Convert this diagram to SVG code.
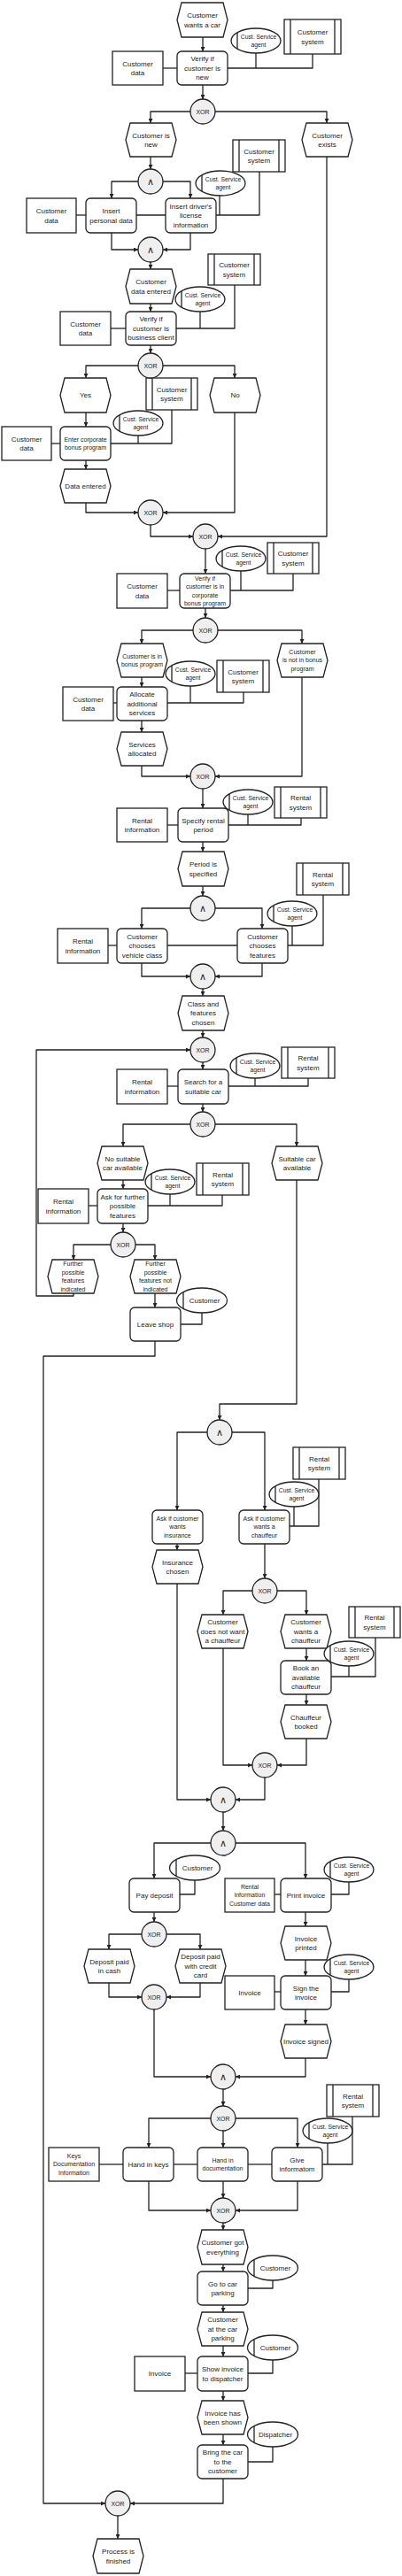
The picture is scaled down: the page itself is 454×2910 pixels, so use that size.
<svg xmlns="http://www.w3.org/2000/svg" width="454" height="2910" viewBox="0 0 454 2910">
<style>
.n rect,.n polygon,.n ellipse{fill:#fff;stroke:#222;stroke-width:1.3}
.n circle{fill:#efefef;stroke:#222;stroke-width:1.3}
.n path{fill:none;stroke:#222;stroke-width:1.3}
text{font-family:"Liberation Sans",Arial,sans-serif;font-size:8px;fill:#222;text-anchor:middle}
.sm{font-size:7px}
.og{font-size:6.8px}
.xr{font-size:7px}
.op{font-family:"DejaVu Sans",sans-serif;font-size:11px}
#conn path{fill:none;stroke:#222;stroke-width:1.3;stroke-linejoin:round}
#conn .a{marker-end:url(#ah)}
</style>
<defs>
<marker id="ah" viewBox="0 0 6 6" refX="6" refY="3" markerWidth="5" markerHeight="5" markerUnits="userSpaceOnUse" orient="auto"><path d="M0,0L6,3L0,6z" fill="#222"/></marker>
</defs>
<rect width="454" height="2910" fill="#fff"/>
<g id="conn">
<path class="a" d="M229,42V58"/>
<path class="a" d="M229,96V112"/>
<path class="a" d="M215,126H170V139"/>
<path class="a" d="M243,126H369V139"/>
<path class="a" d="M170,177V191"/>
<path class="a" d="M156,205H126V224"/>
<path class="a" d="M184,205H215V224"/>
<path class="a" d="M126,263V282H156"/>
<path class="a" d="M215,263V282H184"/>
<path class="a" d="M170,296V304"/>
<path class="a" d="M170,343V352"/>
<path class="a" d="M170,390V399"/>
<path class="a" d="M156,413H97V427"/>
<path class="a" d="M184,413H265V427"/>
<path class="a" d="M97,466V482"/>
<path class="a" d="M97,520V530"/>
<path class="a" d="M97,568V579H156"/>
<path class="a" d="M265,466V579H184"/>
<path class="a" d="M170,593V606H218"/>
<path class="a" d="M369,177V606H246"/>
<path class="a" d="M232,620V648"/>
<path class="a" d="M232,687V698"/>
<path class="a" d="M218,712H160V727"/>
<path class="a" d="M246,712H341V727"/>
<path class="a" d="M160,765V776"/>
<path class="a" d="M160,814V827"/>
<path class="a" d="M160,865V877H215"/>
<path class="a" d="M341,765V877H243"/>
<path class="a" d="M229,891V913"/>
<path class="a" d="M229,951V962"/>
<path class="a" d="M229,1001V1012"/>
<path class="a" d="M215,1026H160V1049"/>
<path class="a" d="M243,1026H296V1049"/>
<path class="a" d="M160,1088V1103H215"/>
<path class="a" d="M296,1088V1103H243"/>
<path class="a" d="M229,1117V1125"/>
<path class="a" d="M229,1164V1172"/>
<path class="a" d="M83,1461V1464H41V1186H215"/>
<path class="a" d="M229,1200V1208"/>
<path class="a" d="M229,1247V1256"/>
<path class="a" d="M215,1270H139V1295"/>
<path class="a" d="M243,1270H335V1295"/>
<path class="a" d="M139,1333V1343"/>
<path class="a" d="M139,1382V1392"/>
<path class="a" d="M125,1406H83V1423"/>
<path class="a" d="M153,1406H175V1423"/>
<path class="a" d="M175,1461V1477"/>
<path class="a" d="M175,1515V1532H49V2828H119"/>
<path class="a" d="M335,1333V1586H248V1604"/>
<path class="a" d="M234,1618H200V1706"/>
<path class="a" d="M262,1618H299V1706"/>
<path class="a" d="M200,1744V1751"/>
<path class="a" d="M200,1789V2033H238"/>
<path class="a" d="M299,1744V1783"/>
<path class="a" d="M285,1797H252V1824"/>
<path class="a" d="M313,1797H346V1824"/>
<path class="a" d="M346,1862V1876"/>
<path class="a" d="M346,1914V1926"/>
<path class="a" d="M252,1862V1994H285"/>
<path class="a" d="M346,1964V1994H313"/>
<path class="a" d="M299,2008V2033H266"/>
<path class="a" d="M252,2047V2068"/>
<path class="a" d="M238,2082H174V2122"/>
<path class="a" d="M266,2082H345V2122"/>
<path class="a" d="M174,2160V2171"/>
<path class="a" d="M160,2185H123V2202"/>
<path class="a" d="M188,2185H226V2202"/>
<path class="a" d="M123,2240V2256H160"/>
<path class="a" d="M226,2240V2256H188"/>
<path class="a" d="M174,2270V2346H238"/>
<path class="a" d="M345,2160V2176"/>
<path class="a" d="M345,2214V2232"/>
<path class="a" d="M345,2270V2287"/>
<path class="a" d="M345,2325V2346H266"/>
<path class="a" d="M252,2360V2379"/>
<path class="a" d="M238,2393H168V2426"/>
<path class="a" d="M266,2393H336V2426"/>
<path class="a" d="M252,2407V2426"/>
<path class="a" d="M168,2464V2497H238"/>
<path class="a" d="M336,2464V2497H266"/>
<path class="a" d="M252,2464V2483"/>
<path class="a" d="M252,2511V2519"/>
<path class="a" d="M252,2558V2566"/>
<path class="a" d="M252,2604V2612"/>
<path class="a" d="M252,2650V2662"/>
<path class="a" d="M252,2701V2712"/>
<path class="a" d="M252,2750V2762"/>
<path class="a" d="M252,2800V2828H147"/>
<path class="a" d="M133,2842V2868"/>
<path d="M184,77H200"/>
<path d="M257,77H353V61"/>
<path d="M289,60V77"/>
<path d="M86,243H97"/>
<path d="M154,243H187"/>
<path d="M244,243H293V194"/>
<path d="M248,221V243"/>
<path d="M125,371H142"/>
<path d="M199,371H265V322"/>
<path d="M226,352V371"/>
<path d="M58,501H68"/>
<path d="M125,501H194V463"/>
<path d="M156,492V501"/>
<path d="M189,667H203"/>
<path d="M260,667H331V648"/>
<path d="M272,645V667"/>
<path d="M128,794H132"/>
<path d="M189,794H275V782"/>
<path d="M215,775V794"/>
<path d="M189,932H201"/>
<path d="M258,932H340V924"/>
<path d="M280,920V932"/>
<path d="M122,1068H132"/>
<path d="M189,1068H268"/>
<path d="M325,1068H365V1011"/>
<path d="M330,1046V1068"/>
<path d="M189,1227H201"/>
<path d="M258,1227H348V1218"/>
<path d="M288,1218V1227"/>
<path d="M100,1362H110"/>
<path d="M167,1362H251V1350"/>
<path d="M192,1349V1362"/>
<path d="M228,1483V1496H204"/>
<path d="M327,1724H360V1671"/>
<path d="M332,1702V1724"/>
<path d="M374,1894H424V1850"/>
<path d="M394,1882V1894"/>
<path d="M220,2124V2140H203"/>
<path d="M310,2140H317"/>
<path d="M394,2126V2140H374"/>
<path d="M310,2250H317"/>
<path d="M394,2236V2250H374"/>
<path d="M112,2445H139"/>
<path d="M196,2445H223"/>
<path d="M280,2445H307"/>
<path d="M364,2445H398V2391"/>
<path d="M370,2421V2445"/>
<path d="M308,2576V2585H280"/>
<path d="M209,2681H223"/>
<path d="M308,2666V2681H280"/>
<path d="M308,2764V2781H280"/>
</g>

<!-- Events -->
<g id="e1" class="n"><polygon points="200,22.5 205,3 252,3 257,22.5 252,42 205,42"/><text x="228.5" y="20.1">Customer<tspan x="228.5" dy="10.5">wants a car</tspan></text></g>
<g id="e2" class="n"><polygon points="142,158 147,139 194,139 199,158 194,177 147,177"/><text x="170.5" y="155.6">Customer is<tspan x="170.5" dy="10.5">new</tspan></text></g>
<g id="e3" class="n"><polygon points="341,158 346,139 393,139 398,158 393,177 346,177"/><text x="369.5" y="155.6">Customer<tspan x="369.5" dy="10.5">exists</tspan></text></g>
<g id="e4" class="n"><polygon points="142,323.5 147,304 194,304 199,323.5 194,343 147,343"/><text x="170.5" y="321.1">Customer<tspan x="170.5" dy="10.5">data entered</tspan></text></g>
<g id="e5" class="n"><polygon points="68,446.5 73,427 120,427 125,446.5 120,466 73,466"/><text x="96.5" y="449.3">Yes</text></g>
<g id="e6" class="n"><polygon points="237,446.5 242,427 289,427 294,446.5 289,466 242,466"/><text x="265.5" y="449.3">No</text></g>
<g id="e7" class="n"><polygon points="68,549 73,530 120,530 125,549 120,568 73,568"/><text x="96.5" y="551.8">Data entered</text></g>
<g id="e8" class="n"><polygon points="132,746 137,727 184,727 189,746 184,765 137,765"/><text class="sm" x="160.5" y="743.7">Customer is in<tspan x="160.5" dy="9.5">bonus program</tspan></text></g>
<g id="e9" class="n"><polygon points="313,746 318,727 365,727 370,746 365,765 318,765"/><text class="sm" x="341.5" y="738.9">Customer<tspan x="341.5" dy="9.5">is not in bonus</tspan><tspan x="341.5" dy="9.5">program</tspan></text></g>
<g id="e10" class="n"><polygon points="132,846 137,827 184,827 189,846 184,865 137,865"/><text x="160.5" y="843.6">Services<tspan x="160.5" dy="10.5">allocated</tspan></text></g>
<g id="e11" class="n"><polygon points="201,981.5 206,962 253,962 258,981.5 253,1001 206,1001"/><text x="229.5" y="979.1">Period is<tspan x="229.5" dy="10.5">specified</tspan></text></g>
<g id="e12" class="n"><polygon points="201,1144.5 206,1125 253,1125 258,1144.5 253,1164 206,1164"/><text x="229.5" y="1136.8">Class and<tspan x="229.5" dy="10.5">features</tspan><tspan x="229.5" dy="10.5">chosen</tspan></text></g>
<g id="e13" class="n"><polygon points="110,1314 115,1295 162,1295 167,1314 162,1333 115,1333"/><text x="138.5" y="1311.6">No suitable<tspan x="138.5" dy="10.5">car available</tspan></text></g>
<g id="e14" class="n"><polygon points="307,1314 312,1295 359,1295 364,1314 359,1333 312,1333"/><text x="335.5" y="1311.6">Suitable car<tspan x="335.5" dy="10.5">available</tspan></text></g>
<g id="e15" class="n"><polygon points="54,1442 59,1423 106,1423 111,1442 106,1461 59,1461"/><text class="sm" x="82.5" y="1430.2">Further<tspan x="82.5" dy="9.5">possible</tspan><tspan x="82.5" dy="9.5">features</tspan><tspan x="82.5" dy="9.5">indicated</tspan></text></g>
<g id="e16" class="n"><polygon points="147,1442 152,1423 199,1423 204,1442 199,1461 152,1461"/><text class="sm" x="175.5" y="1430.2">Further<tspan x="175.5" dy="9.5">possible</tspan><tspan x="175.5" dy="9.5">features not</tspan><tspan x="175.5" dy="9.5">indicated</tspan></text></g>
<g id="e17" class="n"><polygon points="172,1770 177,1751 224,1751 229,1770 224,1789 177,1789"/><text x="200.5" y="1767.6">Insurance<tspan x="200.5" dy="10.5">chosen</tspan></text></g>
<g id="e18" class="n"><polygon points="223,1843 228,1824 275,1824 280,1843 275,1862 228,1862"/><text x="251.5" y="1835.3">Customer<tspan x="251.5" dy="10.5">does not want</tspan><tspan x="251.5" dy="10.5">a chauffeur</tspan></text></g>
<g id="e19" class="n"><polygon points="317,1843 322,1824 369,1824 374,1843 369,1862 322,1862"/><text x="345.5" y="1835.3">Customer<tspan x="345.5" dy="10.5">wants a</tspan><tspan x="345.5" dy="10.5">chauffeur</tspan></text></g>
<g id="e20" class="n"><polygon points="317,1945 322,1926 369,1926 374,1945 369,1964 322,1964"/><text x="345.5" y="1942.6">Chauffeur<tspan x="345.5" dy="10.5">booked</tspan></text></g>
<g id="e21" class="n"><polygon points="95,2221 100,2202 147,2202 152,2221 147,2240 100,2240"/><text x="123.5" y="2218.6">Deposit paid<tspan x="123.5" dy="10.5">in cash</tspan></text></g>
<g id="e22" class="n"><polygon points="198,2221 203,2202 250,2202 255,2221 250,2240 203,2240"/><text x="226.5" y="2213.3">Deposit paid<tspan x="226.5" dy="10.5">with credit</tspan><tspan x="226.5" dy="10.5">card</tspan></text></g>
<g id="e23" class="n"><polygon points="317,2195 322,2176 369,2176 374,2195 369,2214 322,2214"/><text x="345.5" y="2192.6">Invoice<tspan x="345.5" dy="10.5">printed</tspan></text></g>
<g id="e24" class="n"><polygon points="317,2306 322,2287 369,2287 374,2306 369,2325 322,2325"/><text x="345.5" y="2308.8">Invoice signed</text></g>
<g id="e25" class="n"><polygon points="223,2538.5 228,2519 275,2519 280,2538.5 275,2558 228,2558"/><text x="251.5" y="2536.1">Customer got<tspan x="251.5" dy="10.5">everything</tspan></text></g>
<g id="e26" class="n"><polygon points="223,2631 228,2612 275,2612 280,2631 275,2650 228,2650"/><text x="251.5" y="2623.3">Customer<tspan x="251.5" dy="10.5">at the car</tspan><tspan x="251.5" dy="10.5">parking</tspan></text></g>
<g id="e27" class="n"><polygon points="223,2731 228,2712 275,2712 280,2731 275,2750 228,2750"/><text x="251.5" y="2728.6">Invoice has<tspan x="251.5" dy="10.5">been shown</tspan></text></g>
<g id="e28" class="n"><polygon points="105,2887.5 110,2868 157,2868 162,2887.5 157,2907 110,2907"/><text x="133.5" y="2885.1">Process is<tspan x="133.5" dy="10.5">finished</tspan></text></g>

<!-- Functions -->
<g id="f1" class="n"><rect x="200" y="58" width="57" height="38" rx="5"/><text x="228.5" y="69.3">Verify if<tspan x="228.5" dy="10.5">customer is</tspan><tspan x="228.5" dy="10.5">new</tspan></text></g>
<g id="f2" class="n"><rect x="97" y="224" width="57" height="39" rx="5"/><text x="125.5" y="241.1">Insert<tspan x="125.5" dy="10.5">personal data</tspan></text></g>
<g id="f3" class="n"><rect x="187" y="224" width="57" height="39" rx="5"/><text x="215.5" y="235.8">Insert driver's<tspan x="215.5" dy="10.5">license</tspan><tspan x="215.5" dy="10.5">information</tspan></text></g>
<g id="f4" class="n"><rect x="142" y="352" width="57" height="38" rx="5"/><text x="170.5" y="363.3">Verify if<tspan x="170.5" dy="10.5">customer is</tspan><tspan x="170.5" dy="10.5">business client</tspan></text></g>
<g id="f5" class="n"><rect x="68" y="482" width="57" height="38" rx="5"/><text class="sm" x="96.5" y="498.7">Enter corporate<tspan x="96.5" dy="9.5">bonus program</tspan></text></g>
<g id="f6" class="n"><rect x="203" y="648" width="57" height="39" rx="5"/><text class="sm" x="231.5" y="655.7">Verify if<tspan x="231.5" dy="9.5">customer is in</tspan><tspan x="231.5" dy="9.5">corporate</tspan><tspan x="231.5" dy="9.5">bonus program</tspan></text></g>
<g id="f7" class="n"><rect x="132" y="776" width="57" height="38" rx="5"/><text x="160.5" y="787.3">Allocate<tspan x="160.5" dy="10.5">additional</tspan><tspan x="160.5" dy="10.5">services</tspan></text></g>
<g id="f8" class="n"><rect x="201" y="913" width="57" height="38" rx="5"/><text x="229.5" y="929.6">Specify rental<tspan x="229.5" dy="10.5">period</tspan></text></g>
<g id="f9" class="n"><rect x="132" y="1049" width="57" height="39" rx="5"/><text x="160.5" y="1060.8">Customer<tspan x="160.5" dy="10.5">chooses</tspan><tspan x="160.5" dy="10.5">vehicle class</tspan></text></g>
<g id="f10" class="n"><rect x="268" y="1049" width="57" height="39" rx="5"/><text x="296.5" y="1060.8">Customer<tspan x="296.5" dy="10.5">chooses</tspan><tspan x="296.5" dy="10.5">features</tspan></text></g>
<g id="f11" class="n"><rect x="201" y="1208" width="57" height="39" rx="5"/><text x="229.5" y="1225.1">Search for a<tspan x="229.5" dy="10.5">suitable car</tspan></text></g>
<g id="f12" class="n"><rect x="110" y="1343" width="57" height="39" rx="5"/><text x="138.5" y="1354.8">Ask for further<tspan x="138.5" dy="10.5">possible</tspan><tspan x="138.5" dy="10.5">features</tspan></text></g>
<g id="f13" class="n"><rect x="147" y="1477" width="57" height="38" rx="5"/><text x="175.5" y="1498.8">Leave shop</text></g>
<g id="f14" class="n"><rect x="172" y="1706" width="57" height="38" rx="5"/><text class="sm" x="200.5" y="1717.9">Ask if customer<tspan x="200.5" dy="9.5">wants</tspan><tspan x="200.5" dy="9.5">insurance</tspan></text></g>
<g id="f15" class="n"><rect x="270" y="1706" width="57" height="38" rx="5"/><text class="sm" x="298.5" y="1717.9">Ask if customer<tspan x="298.5" dy="9.5">wants a</tspan><tspan x="298.5" dy="9.5">chauffeur</tspan></text></g>
<g id="f16" class="n"><rect x="317" y="1876" width="57" height="38" rx="5"/><text x="345.5" y="1887.3">Book an<tspan x="345.5" dy="10.5">available</tspan><tspan x="345.5" dy="10.5">chauffeur</tspan></text></g>
<g id="f17" class="n"><rect x="146" y="2122" width="57" height="38" rx="5"/><text x="174.5" y="2143.8">Pay deposit</text></g>
<g id="f18" class="n"><rect x="317" y="2122" width="57" height="38" rx="5"/><text x="345.5" y="2143.8">Print invoice</text></g>
<g id="f19" class="n"><rect x="317" y="2232" width="57" height="38" rx="5"/><text x="345.5" y="2248.6">Sign the<tspan x="345.5" dy="10.5">invoice</tspan></text></g>
<g id="f20" class="n"><rect x="139" y="2426" width="57" height="38" rx="5"/><text x="167.5" y="2447.8">Hand in keys</text></g>
<g id="f21" class="n"><rect x="223" y="2426" width="57" height="38" rx="5"/><text class="sm" x="251.5" y="2442.7">Hand in<tspan x="251.5" dy="9.5">documentation</tspan></text></g>
<g id="f22" class="n"><rect x="307" y="2426" width="57" height="38" rx="5"/><text x="335.5" y="2442.6">Give<tspan x="335.5" dy="10.5">informatom</tspan></text></g>
<g id="f23" class="n"><rect x="223" y="2566" width="57" height="38" rx="5"/><text x="251.5" y="2582.6">Go to car<tspan x="251.5" dy="10.5">parking</tspan></text></g>
<g id="f24" class="n"><rect x="223" y="2662" width="57" height="39" rx="5"/><text x="251.5" y="2679.1">Show invoice<tspan x="251.5" dy="10.5">to dispatcher</tspan></text></g>
<g id="f25" class="n"><rect x="223" y="2762" width="57" height="38" rx="5"/><text x="251.5" y="2773.3">Bring the car<tspan x="251.5" dy="10.5">to the</tspan><tspan x="251.5" dy="10.5">customer</tspan></text></g>

<!-- Data -->
<g id="d1" class="n"><rect x="127" y="58" width="57" height="38"/><text x="155.5" y="74.6">Customer<tspan x="155.5" dy="10.5">data</tspan></text></g>
<g id="d2" class="n"><rect x="30" y="224" width="56" height="39"/><text x="58" y="241.1">Customer<tspan x="58" dy="10.5">data</tspan></text></g>
<g id="d3" class="n"><rect x="68" y="352" width="57" height="38"/><text x="96.5" y="368.6">Customer<tspan x="96.5" dy="10.5">data</tspan></text></g>
<g id="d4" class="n"><rect x="2" y="482" width="56" height="38"/><text x="30" y="498.6">Customer<tspan x="30" dy="10.5">data</tspan></text></g>
<g id="d5" class="n"><rect x="132" y="648" width="57" height="39"/><text x="160.5" y="665.1">Customer<tspan x="160.5" dy="10.5">data</tspan></text></g>
<g id="d6" class="n"><rect x="71" y="776" width="57" height="38"/><text x="99.5" y="792.6">Customer<tspan x="99.5" dy="10.5">data</tspan></text></g>
<g id="d7" class="n"><rect x="132" y="913" width="57" height="38"/><text x="160.5" y="929.6">Rental<tspan x="160.5" dy="10.5">information</tspan></text></g>
<g id="d8" class="n"><rect x="65" y="1049" width="57" height="39"/><text x="93.5" y="1066.1">Rental<tspan x="93.5" dy="10.5">information</tspan></text></g>
<g id="d9" class="n"><rect x="132" y="1208" width="57" height="39"/><text x="160.5" y="1225.1">Rental<tspan x="160.5" dy="10.5">information</tspan></text></g>
<g id="d10" class="n"><rect x="43" y="1343" width="57" height="39"/><text x="71.5" y="1360.1">Rental<tspan x="71.5" dy="10.5">information</tspan></text></g>
<g id="d11" class="n"><rect x="254" y="2122" width="56" height="38"/><text class="sm" x="282" y="2133.9">Rental<tspan x="282" dy="9.5">information</tspan><tspan x="282" dy="9.5">Customer data</tspan></text></g>
<g id="d12" class="n"><rect x="254" y="2232" width="56" height="38"/><text x="282" y="2253.8">Invoice</text></g>
<g id="d13" class="n"><rect x="55" y="2426" width="57" height="38"/><text class="sm" x="83.5" y="2437.9">Keys<tspan x="83.5" dy="9.5">Documentation</tspan><tspan x="83.5" dy="9.5">Information</tspan></text></g>
<g id="d14" class="n"><rect x="152" y="2662" width="57" height="39"/><text x="180.5" y="2684.3">Invoice</text></g>

<!-- Systems -->
<g id="s1" class="n"><rect x="321" y="22" width="64" height="39"/><path d="M328,22V61M378,22V61"/><text x="353" y="39.1">Customer<tspan x="353" dy="10.5">system</tspan></text></g>
<g id="s2" class="n"><rect x="263" y="158" width="59" height="36"/><path d="M270,158V194M315,158V194"/><text x="292.5" y="173.6">Customer<tspan x="292.5" dy="10.5">system</tspan></text></g>
<g id="s3" class="n"><rect x="235" y="287" width="59" height="35"/><path d="M242,287V322M287,287V322"/><text x="264.5" y="302.1">Customer<tspan x="264.5" dy="10.5">system</tspan></text></g>
<g id="s4" class="n"><rect x="165" y="427" width="58" height="36"/><path d="M172,427V463M216,427V463"/><text x="194" y="442.6">Customer<tspan x="194" dy="10.5">system</tspan></text></g>
<g id="s5" class="n"><rect x="302" y="613" width="58" height="35"/><path d="M309,613V648M353,613V648"/><text x="331" y="628.1">Customer<tspan x="331" dy="10.5">system</tspan></text></g>
<g id="s6" class="n"><rect x="245" y="746" width="59" height="36"/><path d="M252,746V782M297,746V782"/><text x="274.5" y="761.6">Customer<tspan x="274.5" dy="10.5">system</tspan></text></g>
<g id="s7" class="n"><rect x="310" y="889" width="59" height="35"/><path d="M317,889V924M362,889V924"/><text x="339.5" y="904.1">Rental<tspan x="339.5" dy="10.5">system</tspan></text></g>
<g id="s8" class="n"><rect x="335" y="975" width="59" height="36"/><path d="M342,975V1011M387,975V1011"/><text x="364.5" y="990.6">Rental<tspan x="364.5" dy="10.5">system</tspan></text></g>
<g id="s9" class="n"><rect x="318" y="1183" width="60" height="35"/><path d="M325,1183V1218M371,1183V1218"/><text x="348" y="1198.1">Rental<tspan x="348" dy="10.5">system</tspan></text></g>
<g id="s10" class="n"><rect x="222" y="1314" width="59" height="36"/><path d="M229,1314V1350M274,1314V1350"/><text x="251.5" y="1329.6">Rental<tspan x="251.5" dy="10.5">system</tspan></text></g>
<g id="s11" class="n"><rect x="331" y="1635" width="59" height="36"/><path d="M338,1635V1671M383,1635V1671"/><text x="360.5" y="1650.6">Rental<tspan x="360.5" dy="10.5">system</tspan></text></g>
<g id="s12" class="n"><rect x="394" y="1815" width="58" height="35"/><path d="M401,1815V1850M445,1815V1850"/><text x="423" y="1830.1">Rental<tspan x="423" dy="10.5">system</tspan></text></g>
<g id="s13" class="n"><rect x="369" y="2355" width="59" height="36"/><path d="M376,2355V2391M421,2355V2391"/><text x="398.5" y="2370.6">Rental<tspan x="398.5" dy="10.5">system</tspan></text></g>

<!-- Organisational units -->
<g id="o1" class="n"><ellipse cx="289" cy="46" rx="28" ry="14"/><path d="M268,36.7V55.3"/><text class="og" x="292" y="43.9">Cust. Service<tspan x="292" dy="9">agent</tspan></text></g>
<g id="o2" class="n"><ellipse cx="249" cy="207" rx="28" ry="14"/><path d="M228,197.7V216.3"/><text class="og" x="252" y="204.9">Cust. Service<tspan x="252" dy="9">agent</tspan></text></g>
<g id="o3" class="n"><ellipse cx="226" cy="338" rx="28" ry="14"/><path d="M205,328.7V347.3"/><text class="og" x="229" y="335.9">Cust. Service<tspan x="229" dy="9">agent</tspan></text></g>
<g id="o4" class="n"><ellipse cx="156" cy="478" rx="28" ry="14"/><path d="M135,468.7V487.3"/><text class="og" x="159" y="475.9">Cust. Service<tspan x="159" dy="9">agent</tspan></text></g>
<g id="o5" class="n"><ellipse cx="272" cy="631" rx="28" ry="14"/><path d="M251,621.7V640.3"/><text class="og" x="275" y="628.9">Cust. Service<tspan x="275" dy="9">agent</tspan></text></g>
<g id="o6" class="n"><ellipse cx="215" cy="761" rx="28" ry="14"/><path d="M194,751.7V770.3"/><text class="og" x="218" y="758.9">Cust. Service<tspan x="218" dy="9">agent</tspan></text></g>
<g id="o7" class="n"><ellipse cx="280" cy="906" rx="28" ry="14"/><path d="M259,896.7V915.3"/><text class="og" x="283" y="903.9">Cust. Service<tspan x="283" dy="9">agent</tspan></text></g>
<g id="o8" class="n"><ellipse cx="330" cy="1032" rx="28" ry="14"/><path d="M309,1022.7V1041.3"/><text class="og" x="333" y="1029.9">Cust. Service<tspan x="333" dy="9">agent</tspan></text></g>
<g id="o9" class="n"><ellipse cx="288" cy="1204" rx="28" ry="14"/><path d="M267,1194.7V1213.3"/><text class="og" x="291" y="1201.9">Cust. Service<tspan x="291" dy="9">agent</tspan></text></g>
<g id="o10" class="n"><ellipse cx="192" cy="1335" rx="28" ry="14"/><path d="M171,1325.7V1344.3"/><text class="og" x="195" y="1332.9">Cust. Service<tspan x="195" dy="9">agent</tspan></text></g>
<g id="o11" class="n"><ellipse cx="228" cy="1469" rx="28.5" ry="14"/><path d="M207,1459.7V1478.3"/><text x="231" y="1471.8">Customer</text></g>
<g id="o12" class="n"><ellipse cx="332" cy="1688" rx="28" ry="14"/><path d="M311,1678.7V1697.3"/><text class="og" x="335" y="1685.9">Cust. Service<tspan x="335" dy="9">agent</tspan></text></g>
<g id="o13" class="n"><ellipse cx="394" cy="1868" rx="28" ry="14"/><path d="M373,1858.7V1877.3"/><text class="og" x="397" y="1865.9">Cust. Service<tspan x="397" dy="9">agent</tspan></text></g>
<g id="o14" class="n"><ellipse cx="220" cy="2110" rx="28.5" ry="14"/><path d="M199,2100.7V2119.3"/><text x="223" y="2112.8">Customer</text></g>
<g id="o15" class="n"><ellipse cx="394" cy="2112" rx="28" ry="14"/><path d="M373,2102.7V2121.3"/><text class="og" x="397" y="2109.9">Cust. Service<tspan x="397" dy="9">agent</tspan></text></g>
<g id="o16" class="n"><ellipse cx="394" cy="2222" rx="28" ry="14"/><path d="M373,2212.7V2231.3"/><text class="og" x="397" y="2219.9">Cust. Service<tspan x="397" dy="9">agent</tspan></text></g>
<g id="o17" class="n"><ellipse cx="370" cy="2407" rx="28" ry="14"/><path d="M349,2397.7V2416.3"/><text class="og" x="373" y="2404.9">Cust. Service<tspan x="373" dy="9">agent</tspan></text></g>
<g id="o18" class="n"><ellipse cx="308" cy="2562" rx="28.5" ry="14"/><path d="M287,2552.7V2571.3"/><text x="311" y="2564.8">Customer</text></g>
<g id="o19" class="n"><ellipse cx="308" cy="2652" rx="28.5" ry="14"/><path d="M287,2642.7V2661.3"/><text x="311" y="2654.8">Customer</text></g>
<g id="o20" class="n"><ellipse cx="308" cy="2750" rx="28.5" ry="14"/><path d="M287,2740.7V2759.3"/><text x="311" y="2752.8">Dispatcher</text></g>

<!-- Gates -->
<g id="x1" class="n"><circle cx="229" cy="126" r="14"/><text class="xr" x="229" y="128.5">XOR</text></g>
<g id="a1" class="n"><circle cx="170" cy="205" r="14"/><text class="op" x="170" y="209">∧</text></g>
<g id="a2" class="n"><circle cx="170" cy="282" r="14"/><text class="op" x="170" y="286">∧</text></g>
<g id="x2" class="n"><circle cx="170" cy="413" r="14"/><text class="xr" x="170" y="415.5">XOR</text></g>
<g id="x3" class="n"><circle cx="170" cy="579" r="14"/><text class="xr" x="170" y="581.5">XOR</text></g>
<g id="x4" class="n"><circle cx="232" cy="606" r="14"/><text class="xr" x="232" y="608.5">XOR</text></g>
<g id="x5" class="n"><circle cx="232" cy="712" r="14"/><text class="xr" x="232" y="714.5">XOR</text></g>
<g id="x6" class="n"><circle cx="229" cy="877" r="14"/><text class="xr" x="229" y="879.5">XOR</text></g>
<g id="a3" class="n"><circle cx="229" cy="1026" r="14"/><text class="op" x="229" y="1030">∧</text></g>
<g id="a4" class="n"><circle cx="229" cy="1103" r="14"/><text class="op" x="229" y="1107">∧</text></g>
<g id="x7" class="n"><circle cx="229" cy="1186" r="14"/><text class="xr" x="229" y="1188.5">XOR</text></g>
<g id="x8" class="n"><circle cx="229" cy="1270" r="14"/><text class="xr" x="229" y="1272.5">XOR</text></g>
<g id="x9" class="n"><circle cx="139" cy="1406" r="14"/><text class="xr" x="139" y="1408.5">XOR</text></g>
<g id="a5" class="n"><circle cx="248" cy="1618" r="14"/><text class="op" x="248" y="1622">∧</text></g>
<g id="x10" class="n"><circle cx="299" cy="1797" r="14"/><text class="xr" x="299" y="1799.5">XOR</text></g>
<g id="x11" class="n"><circle cx="299" cy="1994" r="14"/><text class="xr" x="299" y="1996.5">XOR</text></g>
<g id="a6" class="n"><circle cx="252" cy="2033" r="14"/><text class="op" x="252" y="2037">∧</text></g>
<g id="a7" class="n"><circle cx="252" cy="2082" r="14"/><text class="op" x="252" y="2086">∧</text></g>
<g id="x12" class="n"><circle cx="174" cy="2185" r="14"/><text class="xr" x="174" y="2187.5">XOR</text></g>
<g id="x13" class="n"><circle cx="174" cy="2256" r="14"/><text class="xr" x="174" y="2258.5">XOR</text></g>
<g id="a8" class="n"><circle cx="252" cy="2346" r="14"/><text class="op" x="252" y="2350">∧</text></g>
<g id="x14" class="n"><circle cx="252" cy="2393" r="14"/><text class="xr" x="252" y="2395.5">XOR</text></g>
<g id="x15" class="n"><circle cx="252" cy="2497" r="14"/><text class="xr" x="252" y="2499.5">XOR</text></g>
<g id="x16" class="n"><circle cx="133" cy="2828" r="14"/><text class="xr" x="133" y="2830.5">XOR</text></g>
</svg>
